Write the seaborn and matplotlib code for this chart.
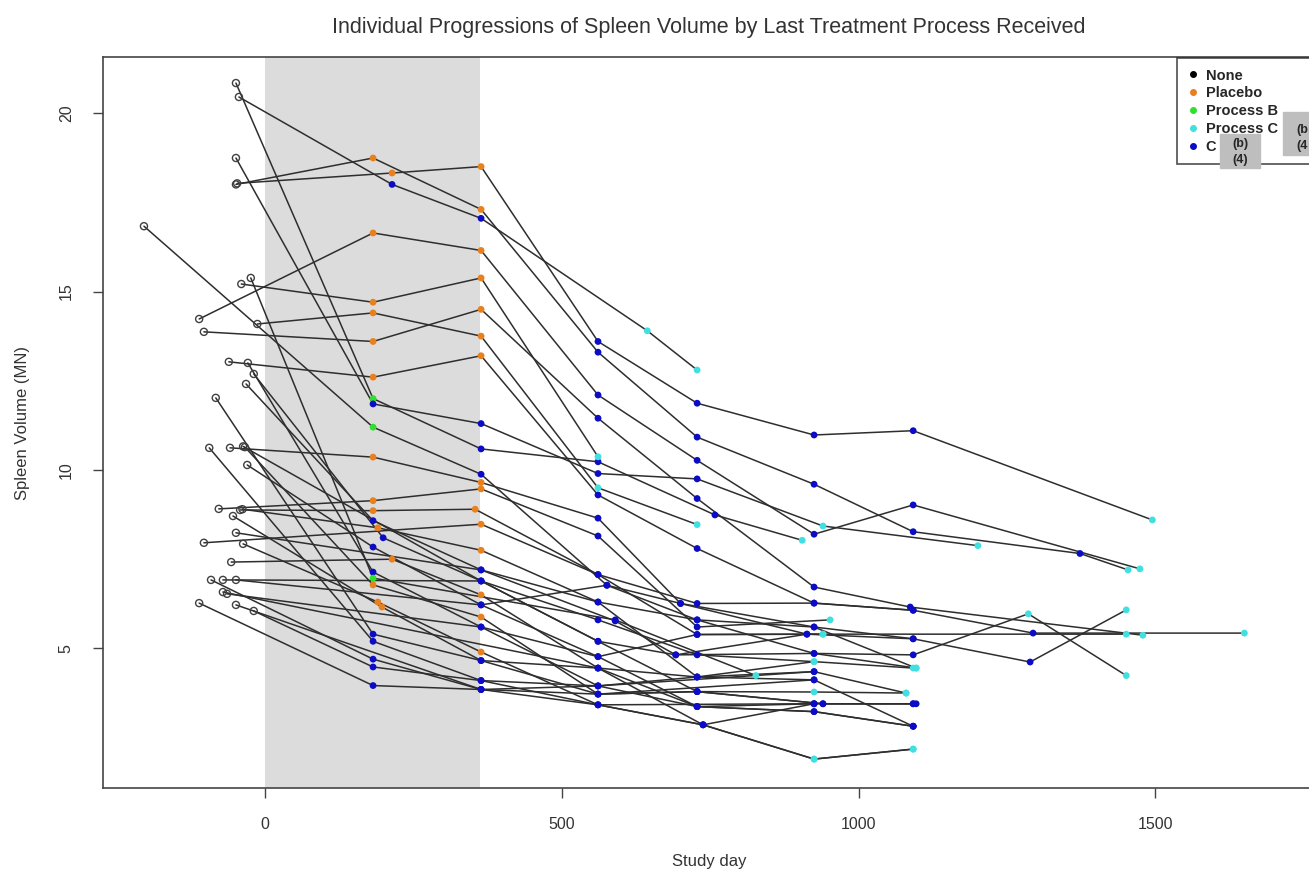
import matplotlib
matplotlib.use("Agg")
import pandas as pd
import matplotlib.pyplot as plt
import seaborn as sns
from matplotlib.lines import Line2D
from matplotlib.patches import Rectangle

sns.set_style("white")
plt.rcParams['font.family'] = ['Liberation Sans', 'DejaVu Sans']

# treatment codes per visit: N none (baseline), P placebo, B process B, C process C, X redacted "C..."
labels = {"N": "None", "P": "Placebo", "B": "Process B", "C": "Process C", "X": "C"}
palette = {"None": "black", "Placebo": "#e8801e", "Process B": "#2fe02f",
           "Process C": "#40e0e0", "C": "#0c0cc6"}

subject_days = [
    [-49, 182, 364, 561, 758, 905],
    [-44, 214, 364, 644, 728],
    [-49, 182, 364, 561, 728, 925, 1092, 1373, 1454],
    [-47, 214, 364, 561, 728, 925, 1092, 1495],
    [-49, 182, 364, 561, 728, 940, 1201],
    [-204, 182, 364, 576, 728, 925, 1092, 1286, 1451],
    [-111, 182, 364, 561, 728, 925, 1092, 1474],
    [-103, 182, 364, 561, 728, 925, 1087, 1479],
    [-40, 182, 364, 561],
    [-13, 182, 364, 561, 728],
    [-61, 182, 364, 561, 728, 925, 1092, 1294, 1650],
    [-59, 182, 364, 561, 700, 925, 1092, 1289, 1451],
    [-78, 182, 364, 561, 728, 952],
    [-42, 182, 354, 561, 728, 940, 1451],
    [-32, 182, 364, 590, 692, 913],
    [-38, 190, 364, 561, 728, 925, 1092],
    [-19, 199, 364, 561, 728, 940, 1097],
    [-30, 182, 364, 561, 728, 925, 1092],
    [-57, 214, 364, 561, 738, 925, 1092],
    [-29, 182, 364, 561, 925, 1080],
    [-24, 182, 590, 827],
    [-34, 182, 364, 561, 925],
    [-37, 190, 364, 561, 925],
    [-54, 197, 364, 561, 728, 925, 1080],
    [-83, 182, 364, 561, 728, 925],
    [-94, 182, 364, 561, 728, 925],
    [-91, 182, 364, 561, 728, 940, 1092],
    [-19, 182, 364, 561, 738, 925, 1092],
    [-111, 182, 364, 561, 728, 925, 1092],
    [-103, 364, 561, 728, 925, 1092],
    [-49, 364, 561, 728, 925, 1097],
    [-71, 364, 561, 692, 925, 1097],
    [-49, 364, 576, 700, 913, 1092],
    [-64, 364, 561, 728, 940],
    [-71, 561, 728, 925, 1092],
    [-49, 364, 561, 738, 925, 1092],
    [-37, 364, 561, 728, 925],
]

subject_volumes = [
    [20.84, 12.0, 10.59, 10.23, 8.74, 8.03],
    [20.45, 18.0, 17.05, 13.9, 12.8],
    [18.0, 18.74, 17.3, 13.3, 10.92, 9.6, 8.27, 7.66, 7.2],
    [18.03, 18.32, 18.5, 13.6, 11.87, 10.98, 11.1, 8.6],
    [18.74, 11.85, 11.3, 9.9, 9.75, 8.43, 7.88],
    [16.83, 11.2, 9.88, 6.77, 5.8, 4.86, 4.82, 5.97, 4.24],
    [14.23, 16.64, 16.15, 12.1, 10.27, 8.2, 9.02, 7.23],
    [13.87, 13.6, 14.5, 11.45, 9.2, 6.72, 6.16, 5.37],
    [15.21, 14.7, 15.38, 10.37],
    [14.09, 14.4, 13.75, 9.5, 8.47],
    [13.03, 12.6, 13.2, 9.3, 7.8, 6.27, 6.07, 5.43, 5.43],
    [10.62, 10.36, 9.65, 8.65, 6.26, 5.6, 5.27, 4.62, 6.08],
    [8.91, 9.14, 9.47, 8.15, 5.6, 5.8],
    [8.88, 8.86, 8.9, 7.07, 5.39, 5.4, 5.4],
    [12.41, 8.58, 7.2, 5.77, 4.82, 5.4],
    [8.9, 8.38, 7.75, 6.3, 4.2, 4.63, 4.45],
    [12.69, 8.1, 6.89, 5.2, 3.79, 3.45, 3.45],
    [10.14, 7.84, 6.22, 4.77, 3.37, 3.23, 2.82],
    [7.42, 7.5, 6.5, 4.45, 2.86, 1.9, 2.18],
    [13.0, 7.14, 5.6, 3.95, 4.35, 3.75],
    [15.38, 6.97, 5.8, 4.24],
    [10.64, 6.78, 5.88, 3.72, 4.12],
    [7.93, 6.3, 4.9, 3.42, 3.45],
    [8.71, 6.16, 4.66, 3.72, 3.79, 3.78, 3.75],
    [12.02, 5.4, 4.66, 4.45, 4.2, 4.35],
    [10.62, 5.2, 4.1, 3.95, 3.37, 3.45],
    [6.92, 4.7, 3.85, 3.72, 3.79, 3.45, 3.45],
    [6.05, 4.48, 4.1, 3.42, 2.86, 1.9, 2.18],
    [6.27, 3.96, 3.85, 3.95, 4.2, 4.12, 2.82],
    [7.96, 8.48, 7.07, 6.26, 6.27, 6.07],
    [8.24, 7.2, 6.3, 5.8, 5.6, 4.45],
    [6.92, 6.89, 5.2, 4.82, 4.86, 4.45],
    [6.92, 6.22, 6.77, 6.26, 5.4, 5.27],
    [6.53, 5.6, 4.77, 5.39, 5.4],
    [6.58, 4.45, 3.37, 3.23, 2.82],
    [6.22, 3.85, 3.42, 2.86, 3.45, 3.45],
    [10.66, 6.89, 5.8, 4.82, 4.63],
]

subject_treatments = [
    "NBXXXC", "NXXCC", "NPPXXXXXC", "NPPXXXXC", "NXXXXCC", "NBXXXXXCC",
    "NPPXXXXC", "NPPXXXXC", "NPPC", "NPPCC", "NPPXXXXXC", "NPPXXXXXC",
    "NPPXXC", "NPPXXCC", "NXXXXX", "NPPXXCC", "NXXXXXX", "NXXXXXX",
    "NPPXXCC", "NXXXXC", "NBXC", "NPPXX", "NPPXX", "NPXXXCC",
    "NXXXXX", "NXXXXX", "NXXXXXX", "NXXXXCC", "NXXXXXX", "NPXXXX",
    "NXXXXC", "NXXXXC", "NXXXXX", "NXXXC", "NXXXX", "NXXXXX", "NXXXC",
]

rows = []
for i, (d, v, t) in enumerate(zip(subject_days, subject_volumes, subject_treatments)):
    for day, vol, code in zip(d, v, t):
        rows.append({"subject": i, "day": day, "volume": vol, "treatment": labels[code]})
df = pd.DataFrame(rows)

fig = plt.figure(figsize=(13.09, 8.75), dpi=100)
ax = fig.add_axes([103 / 1309, 87 / 875, 1212 / 1309, 731 / 875])

ax.axvspan(0, 362, color="#dcdcdc", zorder=0, lw=0)

sns.lineplot(data=df, x="day", y="volume", units="subject", estimator=None,
             color="#2e2e2e", lw=1.1, legend=False, ax=ax, zorder=2)

base = df[df.treatment == "None"]
sns.scatterplot(data=base, x="day", y="volume", color="none", edgecolor="#404040",
                linewidth=1.0, s=26, ax=ax, zorder=3, legend=False)

visits = df[df.treatment != "None"]
sns.scatterplot(data=visits, x="day", y="volume", hue="treatment", palette=palette,
                s=24, linewidth=0, ax=ax, zorder=4, legend=False)

ax.set_xlim(-273, 1769)
ax.set_ylim(1.09, 21.57)
ax.set_xticks([0, 500, 1000, 1500])
ax.set_yticks([5, 10, 15, 20])
ax.tick_params(bottom=True, left=True, direction="out", length=7, width=1,
               colors="#444444", labelsize=11.5, labelcolor="#333333")
ax.tick_params(axis="x", pad=14)
ax.tick_params(axis="y", pad=14)
for lab in ax.get_yticklabels():
    lab.set_rotation(90)
    lab.set_va("center")
for s in ax.spines.values():
    s.set_color("#444444")
    s.set_linewidth(1.2)

ax.set_xlabel("Study day", fontsize=12, color="#333333", labelpad=16)
ax.set_ylabel("Spleen Volume (MN)", fontsize=12, color="#333333", labelpad=21)
ax.set_title("Individual Progressions of Spleen Volume by Last Treatment Process Received",
             fontsize=15.5, color="#333333", pad=17)

handles = [Line2D([], [], marker="o", ls="", color=palette[g], markersize=4)
           for g in palette]
leg = fig.legend(handles, list(palette), loc="upper left", mode="expand",
                 bbox_to_anchor=(1177 / 1309, 1 - 58 / 875, 160 / 1309, 0),
                 borderaxespad=0,
                 prop={"weight": "bold", "size": 10.5}, frameon=True,
                 fancybox=False, edgecolor="#222222", handlelength=0.8,
                 handletextpad=0.45, labelspacing=0.26, borderpad=0.72)
leg.get_frame().set_linewidth(1.2)

# redaction boxes over the legend
for x0, y0, w, h, txt, tx, ty in [(1220, 134, 40, 34, "(b)\n(4)", 1240, 152),
                                  (1283, 112, 40, 43, "(b\n(4", 1296, 138)]:
    fig.add_artist(Rectangle((x0 / 1309, 1 - (y0 + h) / 875), w / 1309, h / 875,
                             transform=fig.transFigure, color="#bebebe", zorder=10))
    fig.text(tx / 1309, 1 - ty / 875, txt, ha="left" if tx > 1290 else "center",
             va="center", fontsize=9, fontweight="bold", linespacing=1.45, zorder=11)

fig.savefig("out.png", dpi=100)
